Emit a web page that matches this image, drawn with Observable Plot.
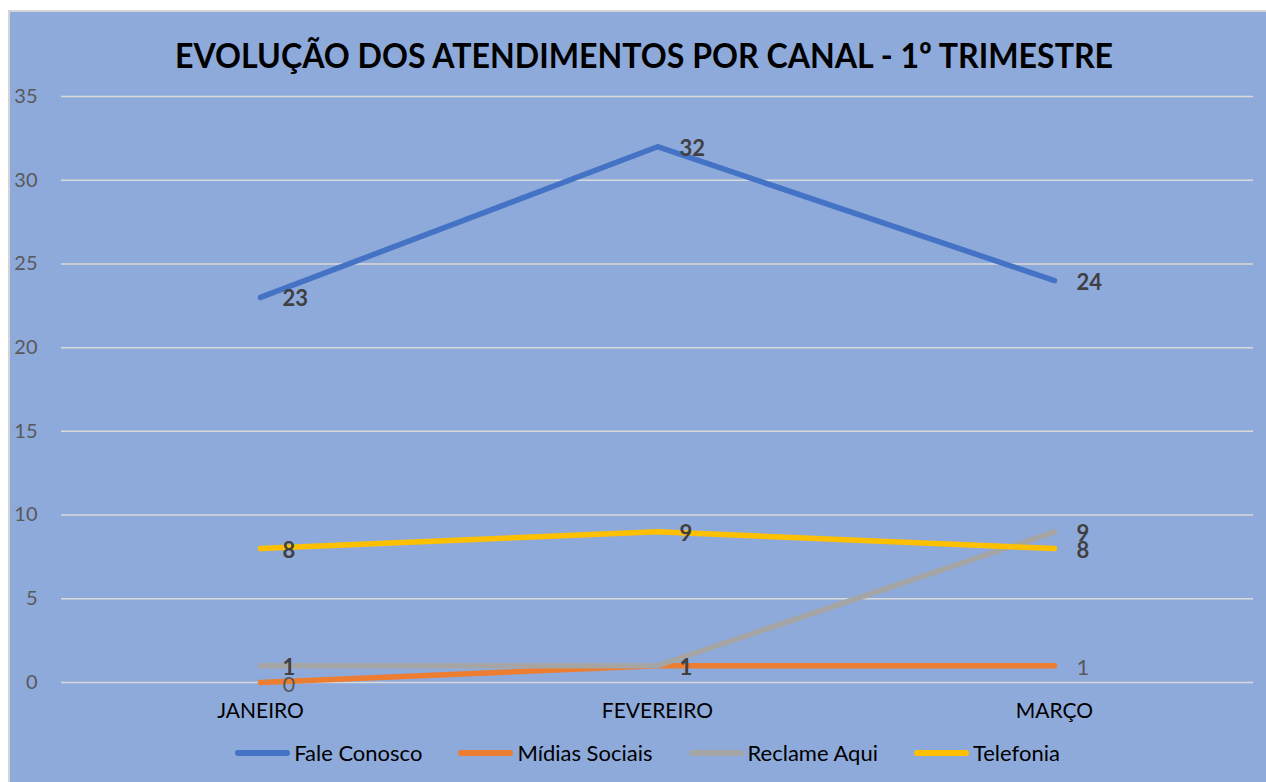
<!DOCTYPE html>
<html><head><meta charset="utf-8">
<script src="https://cdn.jsdelivr.net/npm/d3@7"></script>
<script src="https://cdn.jsdelivr.net/npm/@observablehq/plot@0.6"></script>
<style>
html,body{margin:0;padding:0;background:#fff;width:1266px;height:782px;overflow:hidden;font-family:Lato,"Open Sans",sans-serif}
#chart{position:absolute;left:8px;top:10px;width:1258px;height:772px;background:#8EAADB;border-left:2px solid #d4d4d4;border-top:2px solid #d4d4d4;box-sizing:border-box}
#title{position:absolute;left:0;width:1288px;top:33px;text-align:center;font-weight:700;font-size:35px;line-height:42px;color:#000;white-space:nowrap}
#title span{display:inline-block;transform-origin:50% 50%}
#plot{position:absolute;left:10px;top:80px}
#legend{position:absolute;left:0;width:1295px;top:739px;display:flex;justify-content:center;gap:36px;font-size:22px;color:#000;line-height:27px}
#legend .item{display:flex;align-items:center;gap:4px}
#legend .sw{display:inline-block;width:55px;height:6px;border-radius:3px}
</style></head>
<body>
<div id="chart"></div>
<div id="title"><span>EVOLUÇÃO DOS ATENDIMENTOS POR CANAL - 1º TRIMESTRE</span></div>
<div id="plot"></div>
<div id="legend"></div>
<script>
const meses = ["JANEIRO", "FEVEREIRO", "MARÇO"];
const series = ["Fale Conosco", "Mídias Sociais", "Reclame Aqui", "Telefonia"];
const faleConosco = [23, 32, 24];
const midiasSociais = [0, 1, 1];
const reclameAqui = [1, 1, 9];
const telefonia = [8, 9, 8];
const cores = ["#4472C4", "#ED7D31", "#A5A5A5", "#FFC000"];
const yTicks = [0, 5, 10, 15, 20, 25, 30, 35];

const valores = [faleConosco, midiasSociais, reclameAqui, telefonia];
const data = [];
series.forEach((s, i) => meses.forEach((m, j) => data.push({serie: s, mes: m, valor: valores[i][j]})));
const boldData = data.filter(d => d.serie !== "Mídias Sociais");
const plainData = data.filter(d => d.serie === "Mídias Sociais");

const chart = Plot.plot({
  width: 1256, height: 650,
  marginLeft: 51, marginRight: 13, marginTop: 16, marginBottom: 48,
  style: {background: "transparent", fontFamily: "Lato, 'Open Sans', sans-serif", overflow: "visible"},
  x: {type: "point", domain: meses, padding: 0.5, label: null},
  y: {domain: [0, 35], label: null},
  color: {domain: series, range: cores},
  marks: [
    Plot.gridY(yTicks, {stroke: "#D9D9D9", strokeOpacity: 1, strokeWidth: 1.5}),
    Plot.axisY(yTicks, {tickSize: 0, tickPadding: 24, fontSize: 20, fill: "#595959", label: null}),
    Plot.axisX({tickSize: 0, tickPadding: 21, fontSize: 21, fill: "#000", label: null}),
    Plot.line(data, {x: "mes", y: "valor", z: "serie", stroke: "serie", strokeWidth: 5.5, strokeLinecap: "round", strokeLinejoin: "round"}),
    Plot.text(plainData, {x: "mes", y: "valor", text: d => String(d.valor), dx: 22, dy: 2, textAnchor: "start", fontSize: 22, fill: "#595959"}),
    Plot.text(boldData, {x: "mes", y: "valor", text: d => String(d.valor), dx: 22, dy: 2, textAnchor: "start", fontSize: 22, fontWeight: "bold", fill: "#404040"})
  ]
});
document.getElementById("plot").appendChild(chart);

const legend = document.getElementById("legend");
series.forEach((s, i) => {
  const it = document.createElement("div");
  it.className = "item";
  const sw = document.createElement("span");
  sw.className = "sw";
  sw.style.background = cores[i];
  const t = document.createElement("span");
  t.textContent = s;
  it.appendChild(sw); it.appendChild(t);
  legend.appendChild(it);
});

const ts = document.querySelector("#title span");
const w = ts.getBoundingClientRect().width;
ts.style.transform = `scaleX(${938 / w})`;
</script>
</body></html>
